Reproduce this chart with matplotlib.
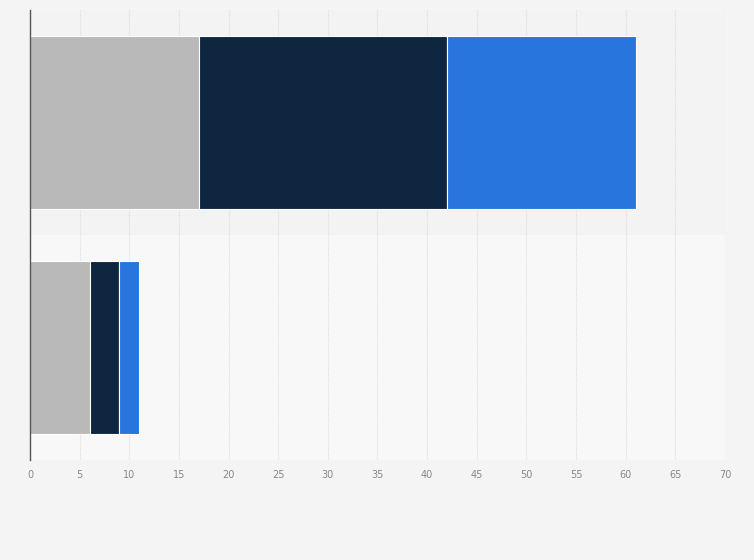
import matplotlib.pyplot as plt
from matplotlib.patches import Rectangle

# two unlabeled categories, three stacked segments each
categories = ["", ""]
seg_a = [17, 6]
seg_b = [25, 3]
seg_c = [19, 2]
colors = ["#b9b9b9", "#0f2640", "#2876dd"]
xticks = list(range(0, 75, 5))

fig = plt.figure(figsize=(7.54, 5.60), dpi=100)
fig.patch.set_facecolor("#f4f4f4")
ax = fig.add_axes([30 / 754, 1 - 460 / 560, 695 / 754, 450 / 560])
ax.set_facecolor("#f8f8f8")

ypos = [0, 1]
# alternating background bands
band_cols = ["#f3f3f3", "#f8f8f8"]
for y, c in zip(ypos, band_cols):
    ax.add_patch(Rectangle((0, y - 0.5), 70, 1, facecolor=c, edgecolor="none", zorder=0))

left = [0, 0]
for vals, col in zip([seg_a, seg_b, seg_c], colors):
    ax.barh(ypos, vals, left=left, height=0.77, color=col,
            edgecolor="white", linewidth=0.8, zorder=3)
    left = [l + v for l, v in zip(left, vals)]

ax.set_xlim(0, 70)
ax.set_ylim(1.5, -0.5)
ax.set_xticks(xticks)
ax.set_xticklabels([str(t) for t in xticks], fontsize=7, color="#888888")
ax.set_yticks([])
ax.tick_params(axis="x", length=0, pad=7)
ax.grid(axis="x", color="#dddddd", linestyle=(0, (1, 1)), linewidth=0.8, zorder=1)
ax.set_axisbelow(True)
for s in ["top", "right", "bottom"]:
    ax.spines[s].set_visible(False)
ax.spines["left"].set_color("#555555")
ax.spines["left"].set_linewidth(1.0)
ax.spines["left"].set_zorder(5)

fig.savefig("out.png", dpi=100, facecolor=fig.get_facecolor())
